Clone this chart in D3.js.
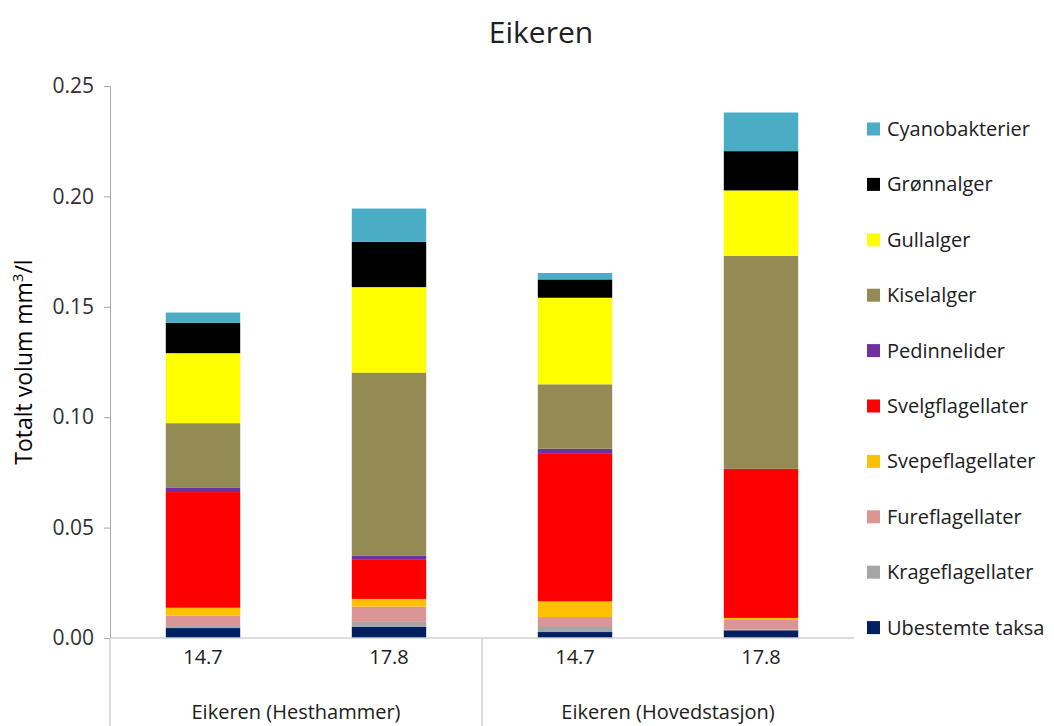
<!DOCTYPE html>
<html>
<head>
<meta charset="utf-8">
<script src="https://cdn.jsdelivr.net/npm/d3@7"></script>
<style>
  html, body { margin: 0; padding: 0; background: #fff; }
  svg { display: block; font-family: "Open Sans", sans-serif; }
</style>
</head>
<body>
<svg id="chart" width="1054" height="726"></svg>
<script>
// Sampling dates and stations
const categories = ["14.7", "17.8", "14.7", "17.8"];
const groups = ["Eikeren (Hesthammer)", "Eikeren (Hovedstasjon)"];

// Volume per algal group (mm³/l), listed bottom of stack first
const seriesNames = [
  "Ubestemte taksa", "Krageflagellater", "Fureflagellater", "Svepeflagellater",
  "Svelgflagellater", "Pedinnelider", "Kiselalger", "Gullalger", "Grønnalger", "Cyanobakterier"
];
const ubestemte   = [0.0045, 0.0050, 0.0027, 0.0035];
const krage       = [0.0009, 0.0023, 0.0027, 0.0003];
const fure        = [0.0047, 0.0069, 0.0041, 0.0047];
const svepe       = [0.0036, 0.0035, 0.0071, 0.0006];
const svelg       = [0.0524, 0.0177, 0.0668, 0.0670];
const pedinn      = [0.0021, 0.0018, 0.0023, 0.0005];
const kisel       = [0.0291, 0.0830, 0.0292, 0.0965];
const gull        = [0.0317, 0.0387, 0.0392, 0.0296];
const gronn       = [0.0137, 0.0205, 0.0083, 0.0178];
const cyano       = [0.0047, 0.0151, 0.0029, 0.0175];
const seriesValues = [ubestemte, krage, fure, svepe, svelg, pedinn, kisel, gull, gronn, cyano];
const seriesColors = [
  "#002060", "#A6A6A6", "#DA9694", "#FFC000", "#FF0000",
  "#7030A0", "#948A54", "#FFFF00", "#000000", "#4BACC6"
];

const yTicks = [0, 0.05, 0.10, 0.15, 0.20, 0.25];

const svg = d3.select("#chart");
const W = 1054, H = 726;
const x0 = 110, x1 = 854;
const yTop = 86, yBase = 638;

const rows = categories.map((c, i) => {
  const r = { key: i };
  seriesNames.forEach((s, j) => r[s] = seriesValues[j][i]);
  return r;
});

const x = d3.scaleBand().domain(d3.range(categories.length)).range([x0, x1])
  .paddingInner(0.6).paddingOuter(0.3);
const y = d3.scaleLinear().domain([0, 0.25]).range([yBase, yTop]);

const stacked = d3.stack().keys(seriesNames)(rows);

// Bars
svg.append("g").selectAll("g")
  .data(stacked)
  .join("g")
  .attr("fill", (d, i) => seriesColors[i])
  .selectAll("rect")
  .data(d => d)
  .join("rect")
  .attr("x", d => x(d.data.key))
  .attr("width", x.bandwidth())
  .attr("y", d => y(d[1]))
  .attr("height", d => y(d[0]) - y(d[1]));

// Y axis
const yAxis = d3.axisLeft(y).tickValues(yTicks).tickFormat(d3.format(".2f")).tickSize(6).tickSizeOuter(0);
const gy = svg.append("g").attr("transform", `translate(${x0},0)`).call(yAxis)
  .attr("font-family", null).attr("font-size", null);
gy.select(".domain").attr("stroke", "#A6A6A6");
gy.selectAll(".tick line").attr("stroke", "#A6A6A6");
gy.selectAll(".tick text").attr("fill", "#303030").attr("font-size", 21).attr("x", -16);

// X axis baseline and group separators
const axisColor = "#D0D0D0";
svg.append("line").attr("x1", x0).attr("x2", x1).attr("y1", yBase).attr("y2", yBase)
  .attr("stroke", axisColor).attr("stroke-width", 1.5);
const groupEdges = [x0, (x0 + x1) / 2];
svg.append("g").selectAll("line").data(groupEdges).join("line")
  .attr("x1", d => d).attr("x2", d => d)
  .attr("y1", yBase).attr("y2", H)
  .attr("stroke", axisColor).attr("stroke-width", 1.5);

// Category labels
svg.append("g").selectAll("text").data(categories).join("text")
  .attr("x", (d, i) => x(i) + x.bandwidth() / 2)
  .attr("y", 664)
  .attr("text-anchor", "middle")
  .attr("font-size", 20)
  .attr("fill", "#202020")
  .text(d => d);

// Station labels
const groupWidth = (x1 - x0) / groups.length;
svg.append("g").selectAll("text").data(groups).join("text")
  .attr("x", (d, i) => x0 + groupWidth * (i + 0.5))
  .attr("y", 719)
  .attr("text-anchor", "middle")
  .attr("font-size", 20)
  .attr("fill", "#202020")
  .text(d => d);

// Title
svg.append("text").attr("x", 541).attr("y", 43).attr("text-anchor", "middle")
  .attr("font-size", 30).attr("fill", "#202020").text("Eikeren");

// Y axis title
const yt = svg.append("text")
  .attr("transform", `translate(32,${(yBase + yTop) / 2}) rotate(-90)`)
  .attr("text-anchor", "middle")
  .attr("font-size", 23)
  .attr("fill", "#000");
yt.append("tspan").text("Totalt volum mm");
yt.append("tspan").attr("font-size", 15).attr("dy", -9).text("3");
yt.append("tspan").attr("dy", 9).text("/l");

// Legend, top entry is the top of the stack
const legendItems = seriesNames.map((n, i) => ({ name: n, color: seriesColors[i] })).reverse();
const lg = svg.append("g").selectAll("g").data(legendItems).join("g")
  .attr("transform", (d, i) => `translate(867,${129 + i * 55.4})`);
lg.append("rect").attr("x", 0).attr("y", -6.5).attr("width", 13).attr("height", 13)
  .attr("fill", d => d.color);
lg.append("text").attr("x", 20).attr("y", 0).attr("dy", "0.35em")
  .attr("font-size", 20).attr("fill", "#202020").text(d => d.name);
</script>
</body>
</html>
